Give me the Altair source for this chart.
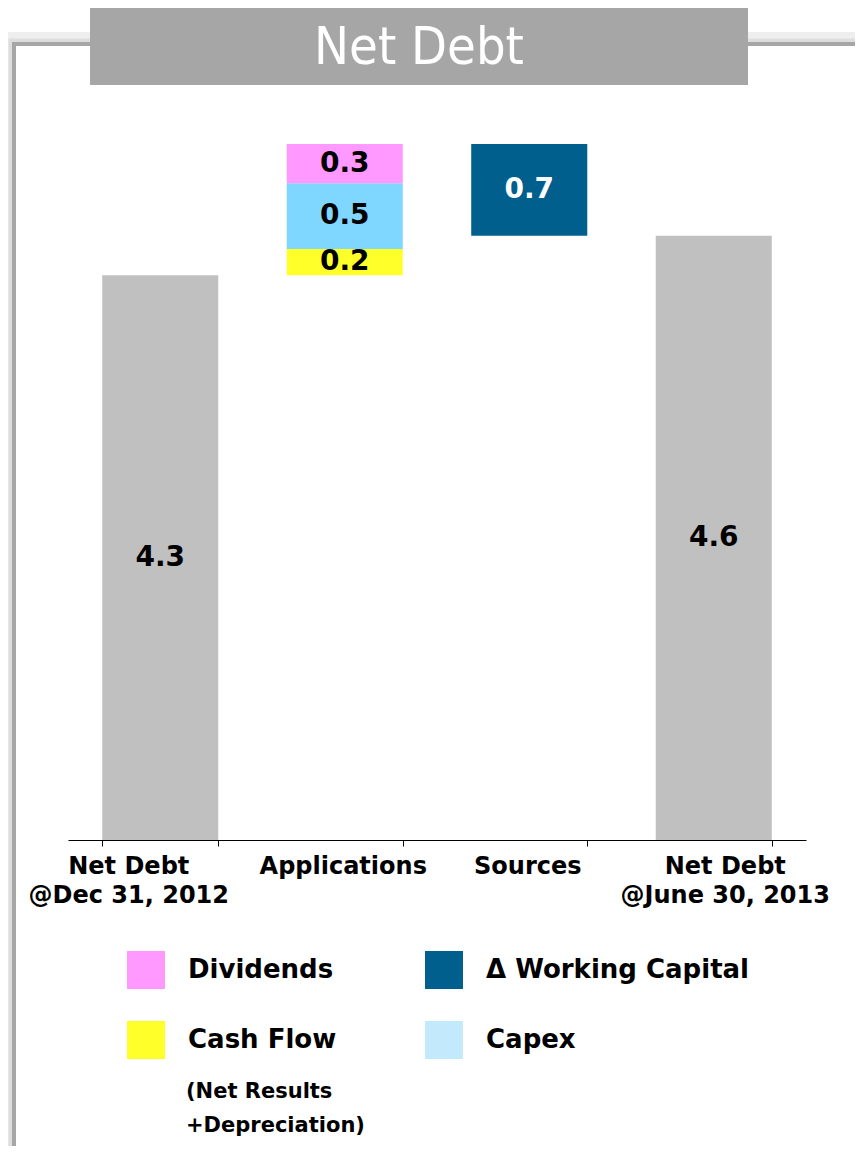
import altair as alt
import pandas as pd

# ---------------- data ----------------
categories = ["Net Debt|@Dec 31, 2012", "Applications", "Sources", "Net Debt|@June 30, 2013"]
opening_debt = 4.3
closing_debt = 4.6
application_items = ["Cash Flow", "Capex", "Dividends"]
application_values = [0.2, 0.5, 0.3]
source_items = ["Δ Working Capital"]
source_values = [0.7]

bar_colors = {
    "Net Debt": "#C0C0C0",
    "Cash Flow": "#FFFF29",
    "Capex": "#7FD7FF",
    "Dividends": "#FF99FF",
    "Δ Working Capital": "#005F8C",
}
label_colors = {"Δ Working Capital": "#FFFFFF"}

legend_items = ["Dividends", "Δ Working Capital", "Cash Flow", "Capex"]
legend_colors = ["#FF99FF", "#005F8C", "#FFFF29", "#C2EAFC"]
legend_cols = [0, 1, 0, 1]
legend_rows = [0, 0, 1, 1]
legend_notes = ["", "", "(Net Results|+Depreciation)", ""]

# ---------------- waterfall segments ----------------
rows = []
rows.append(dict(cat=categories[0], start=0.0, end=opening_debt, item="Net Debt", value=opening_debt))
level = opening_debt
for it, v in zip(application_items, application_values):
    rows.append(dict(cat=categories[1], start=level, end=level + v, item=it, value=v))
    level += v
for it, v in zip(source_items, source_values):
    rows.append(dict(cat=categories[2], start=level - v, end=level, item=it, value=v))
    level -= v
rows.append(dict(cat=categories[3], start=0.0, end=closing_debt, item="Net Debt", value=closing_debt))
seg = pd.DataFrame(rows)
seg["mid"] = (seg["start"] + seg["end"]) / 2
seg["label"] = seg["value"].map(lambda v: f"{v:.1f}")
seg["fill"] = seg["item"].map(bar_colors)
seg["tcolor"] = seg["item"].map(lambda i: label_colors.get(i, "#000000"))

leg = pd.DataFrame(dict(name=legend_items, swatch=legend_colors, col=legend_cols,
                        row=legend_rows, note=legend_notes))

FONT = "DejaVu Sans"

# ---------------- main chart ----------------
x_enc = alt.X(
    "cat:N", sort=categories,
    scale=alt.Scale(paddingInner=0.371, paddingOuter=0.1855),
    axis=alt.Axis(
        title=None, labelExpr="split(datum.label, '|')", labelAngle=0,
        labelFont=FONT, labelFontWeight="bold", labelFontSize=24, labelColor="black",
        labelLineHeight=29, labelPadding=8, labelLimit=0, tickBand="extent", tickSize=6,
        tickColor="black", domainColor="black", grid=False,
        labelOffset={
            "condition": [
                {"test": f"datum.value == '{categories[0]}'", "value": -32},
                {"test": f"datum.value == '{categories[3]}'", "value": 11},
            ],
            "value": -2,
        },
    ),
)
y_scale = alt.Scale(domain=[0, 6], nice=False, zero=True)

bars = alt.Chart(seg).mark_bar(strokeWidth=0).encode(
    x=x_enc,
    y=alt.Y("start:Q", scale=y_scale, axis=None),
    y2="end:Q",
    color=alt.Color("fill:N", scale=None),
)
bar_text = alt.Chart(seg).mark_text(
    font=FONT, fontWeight="bold", fontSize=28, baseline="middle", align="center"
).encode(
    x=alt.X("cat:N", sort=categories),
    y=alt.Y("mid:Q", scale=y_scale, axis=None),
    text="label:N",
    color=alt.Color("tcolor:N", scale=None),
)
main = alt.layer(bars, bar_text)

# ---------------- legend ----------------
lx = alt.X("col:Q", scale=alt.Scale(domain=[0, 1], range=[78, 376]), axis=None)
ly = alt.Y("row:Q", scale=alt.Scale(domain=[0, 1], range=[918, 988]), axis=None)
swatches = alt.Chart(leg).mark_square(size=1444, opacity=1, strokeWidth=0).encode(
    x=lx, y=ly, color=alt.Color("swatch:N", scale=None)
)
leg_labels = alt.Chart(leg).mark_text(
    font=FONT, fontWeight="bold", fontSize=26, align="left", baseline="middle", dx=42, color="black"
).encode(x=lx, y=ly, text="name:N")
leg_notes = alt.Chart(leg).transform_filter("datum.note != ''").transform_calculate(
    lines="split(datum.note, '|')"
).mark_text(
    font=FONT, fontWeight="bold", fontSize=21, align="left", baseline="top",
    dx=40, dy=41, lineHeight=34, color="black"
).encode(x=lx, y=ly, text="lines:N")
legend = alt.layer(swatches, leg_labels, leg_notes)

# ---------------- decoration (frame + title box) ----------------
one = pd.DataFrame({"d": [0]})
shadow1 = alt.Chart(one).mark_rect(filled=False, stroke="#EEEEEE", strokeWidth=12).encode(
    x=alt.value(-60), x2=alt.value(900), y=alt.value(-14), y2=alt.value(1300))
shadow2 = alt.Chart(one).mark_rect(filled=False, stroke="#DDDDDD", strokeWidth=5).encode(
    x=alt.value(-57), x2=alt.value(900), y=alt.value(-11), y2=alt.value(1300))
frame = alt.Chart(one).mark_rect(filled=False, stroke="#A6A6A6", strokeWidth=4).encode(
    x=alt.value(-54), x2=alt.value(900), y=alt.value(-8), y2=alt.value(1300))
title_box = alt.Chart(one).mark_rect(color="#A6A6A6").encode(
    x=alt.value(22), x2=alt.value(680), y=alt.value(-44), y2=alt.value(33))
title_text = alt.Chart(one).mark_text(
    text="Net Debt", font="DejaVu Sans Condensed", fontSize=52, color="white",
    align="center", baseline="middle"
).encode(x=alt.value(351), y=alt.value(-4))

chart = alt.layer(
    shadow1, shadow2, frame, title_box, title_text, main, legend
).resolve_scale(x="independent", y="independent").properties(
    width=738, height=788,
    padding={"left": 60, "top": 44, "right": 49, "bottom": 306},
    autosize=alt.AutoSizeParams(type="none"),
    background="white",
).configure_view(stroke=None)

chart.save("out.html", embed_options={"renderer": "svg", "actions": False})
